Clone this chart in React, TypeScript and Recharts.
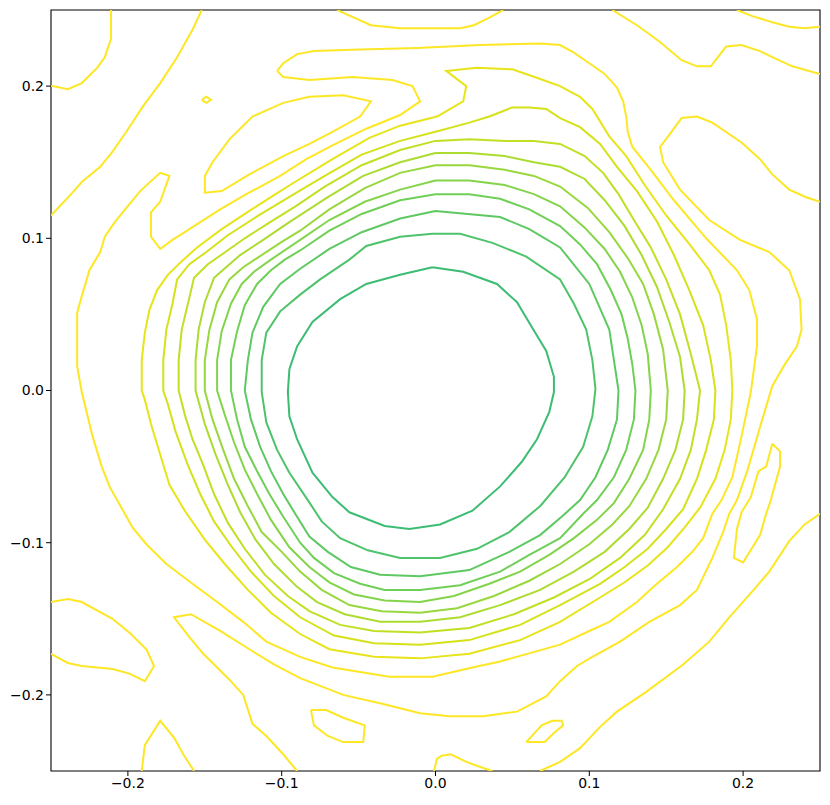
import { LineChart, Line, XAxis, YAxis, ReferenceArea } from 'recharts';

type Pt = [number, number];

// closed rings, innermost first
const ring1: Pt[] = [[-0.002,0.081],[0.018,0.078],[0.040,0.070],[0.053,0.058],[0.063,0.041],[0.072,0.026],[0.077,0.009],[0.077,-0.001],[0.074,-0.014],[0.066,-0.032],[0.056,-0.047],[0.042,-0.063],[0.024,-0.079],[0.003,-0.088],[-0.017,-0.091],[-0.033,-0.089],[-0.056,-0.080],[-0.067,-0.070],[-0.080,-0.054],[-0.090,-0.032],[-0.095,-0.017],[-0.096,-0.001],[-0.095,0.014],[-0.090,0.029],[-0.080,0.045],[-0.062,0.060],[-0.045,0.070],[-0.023,0.076],[-0.002,0.081]];
const ring2: Pt[] = [[-0.002,0.103],[0.016,0.103],[0.037,0.097],[0.059,0.088],[0.081,0.073],[0.090,0.057],[0.098,0.040],[0.102,0.020],[0.104,0.001],[0.102,-0.017],[0.096,-0.037],[0.084,-0.057],[0.068,-0.076],[0.048,-0.093],[0.027,-0.104],[0.003,-0.110],[-0.023,-0.110],[-0.044,-0.105],[-0.062,-0.097],[-0.074,-0.086],[-0.083,-0.072],[-0.095,-0.054],[-0.103,-0.039],[-0.110,-0.021],[-0.113,-0.001],[-0.113,0.020],[-0.110,0.038],[-0.101,0.052],[-0.088,0.063],[-0.075,0.073],[-0.056,0.086],[-0.045,0.095],[-0.023,0.101],[-0.002,0.103]];
const ring3: Pt[] = [[0.000,0.118],[0.042,0.114],[0.061,0.106],[0.081,0.094],[0.100,0.070],[0.113,0.040],[0.119,0.000],[0.118,-0.019],[0.112,-0.039],[0.104,-0.057],[0.094,-0.072],[0.082,-0.083],[0.068,-0.095],[0.048,-0.106],[0.022,-0.118],[-0.010,-0.122],[-0.036,-0.121],[-0.055,-0.116],[-0.070,-0.106],[-0.082,-0.096],[-0.090,-0.083],[-0.099,-0.068],[-0.107,-0.053],[-0.114,-0.037],[-0.120,-0.019],[-0.124,0.000],[-0.122,0.020],[-0.119,0.038],[-0.112,0.055],[-0.101,0.070],[-0.088,0.080],[-0.069,0.093],[-0.048,0.104],[-0.023,0.113],[0.000,0.118]];
const ring4: Pt[] = [[0.000,0.129],[0.022,0.129],[0.042,0.126],[0.061,0.119],[0.081,0.108],[0.094,0.096],[0.105,0.083],[0.114,0.066],[0.121,0.050],[0.125,0.034],[0.128,0.017],[0.130,0.000],[0.129,-0.019],[0.124,-0.039],[0.116,-0.057],[0.105,-0.072],[0.096,-0.081],[0.081,-0.097],[0.061,-0.108],[0.042,-0.119],[0.016,-0.128],[-0.010,-0.131],[-0.033,-0.131],[-0.049,-0.127],[-0.066,-0.120],[-0.079,-0.110],[-0.088,-0.100],[-0.099,-0.083],[-0.108,-0.068],[-0.116,-0.053],[-0.124,-0.037],[-0.129,-0.019],[-0.133,0.000],[-0.133,0.020],[-0.129,0.039],[-0.124,0.056],[-0.116,0.070],[-0.107,0.079],[-0.098,0.086],[-0.088,0.092],[-0.069,0.105],[-0.048,0.116],[-0.023,0.125],[0.000,0.129]];
const ring5: Pt[] = [[0.000,0.138],[0.022,0.138],[0.045,0.135],[0.064,0.129],[0.081,0.121],[0.097,0.107],[0.110,0.093],[0.120,0.078],[0.128,0.061],[0.134,0.043],[0.138,0.024],[0.140,0.000],[0.139,-0.019],[0.135,-0.039],[0.126,-0.058],[0.116,-0.074],[0.105,-0.085],[0.090,-0.097],[0.074,-0.108],[0.055,-0.119],[0.035,-0.127],[0.012,-0.135],[-0.010,-0.139],[-0.033,-0.138],[-0.053,-0.134],[-0.069,-0.126],[-0.082,-0.116],[-0.095,-0.103],[-0.107,-0.085],[-0.116,-0.068],[-0.124,-0.052],[-0.131,-0.034],[-0.137,-0.016],[-0.142,0.000],[-0.142,0.020],[-0.139,0.039],[-0.133,0.057],[-0.126,0.070],[-0.118,0.078],[-0.107,0.086],[-0.088,0.099],[-0.069,0.112],[-0.046,0.124],[-0.023,0.132],[0.000,0.138]];
const ring6: Pt[] = [[0.000,0.148],[0.022,0.148],[0.045,0.145],[0.064,0.141],[0.081,0.134],[0.099,0.120],[0.113,0.104],[0.125,0.087],[0.135,0.070],[0.142,0.050],[0.148,0.027],[0.151,0.000],[0.150,-0.019],[0.145,-0.039],[0.137,-0.058],[0.126,-0.076],[0.115,-0.088],[0.100,-0.101],[0.081,-0.114],[0.061,-0.125],[0.038,-0.135],[0.014,-0.143],[-0.010,-0.146],[-0.035,-0.145],[-0.056,-0.141],[-0.074,-0.131],[-0.088,-0.119],[-0.100,-0.106],[-0.113,-0.093],[-0.122,-0.076],[-0.131,-0.058],[-0.138,-0.039],[-0.145,-0.019],[-0.150,0.000],[-0.150,0.020],[-0.147,0.040],[-0.142,0.058],[-0.134,0.073],[-0.125,0.081],[-0.116,0.087],[-0.101,0.097],[-0.088,0.105],[-0.069,0.119],[-0.046,0.133],[-0.023,0.143],[0.000,0.148]];
const ring7: Pt[] = [[0.000,0.156],[0.022,0.156],[0.045,0.154],[0.064,0.150],[0.081,0.147],[0.097,0.139],[0.110,0.125],[0.123,0.108],[0.134,0.089],[0.144,0.068],[0.152,0.045],[0.159,0.022],[0.162,0.000],[0.161,-0.019],[0.156,-0.039],[0.148,-0.058],[0.138,-0.077],[0.126,-0.091],[0.110,-0.106],[0.090,-0.119],[0.068,-0.131],[0.042,-0.141],[0.016,-0.149],[-0.010,-0.152],[-0.036,-0.152],[-0.059,-0.147],[-0.077,-0.139],[-0.090,-0.129],[-0.105,-0.114],[-0.117,-0.098],[-0.127,-0.080],[-0.135,-0.062],[-0.143,-0.042],[-0.150,-0.022],[-0.156,0.000],[-0.156,0.020],[-0.154,0.040],[-0.150,0.058],[-0.144,0.074],[-0.135,0.082],[-0.127,0.089],[-0.112,0.099],[-0.096,0.110],[-0.070,0.127],[-0.047,0.141],[-0.023,0.150],[0.000,0.156]];
const ring8: Pt[] = [[0.000,0.164],[0.022,0.165],[0.045,0.164],[0.064,0.164],[0.081,0.162],[0.097,0.154],[0.109,0.143],[0.119,0.129],[0.129,0.112],[0.140,0.094],[0.150,0.073],[0.159,0.050],[0.166,0.024],[0.172,0.000],[0.170,-0.019],[0.166,-0.039],[0.159,-0.058],[0.148,-0.078],[0.136,-0.095],[0.120,-0.110],[0.100,-0.124],[0.077,-0.136],[0.051,-0.147],[0.022,-0.156],[-0.010,-0.159],[-0.040,-0.158],[-0.062,-0.154],[-0.082,-0.145],[-0.096,-0.135],[-0.111,-0.121],[-0.124,-0.104],[-0.135,-0.087],[-0.144,-0.068],[-0.151,-0.049],[-0.158,-0.032],[-0.163,-0.016],[-0.167,0.000],[-0.167,0.020],[-0.165,0.040],[-0.161,0.057],[-0.157,0.074],[-0.148,0.083],[-0.138,0.090],[-0.124,0.100],[-0.107,0.111],[-0.091,0.121],[-0.072,0.134],[-0.048,0.148],[-0.023,0.158],[0.000,0.164]];
const ring9: Pt[] = [[0.000,0.170],[0.022,0.176],[0.035,0.180],[0.050,0.186],[0.061,0.186],[0.072,0.185],[0.081,0.179],[0.094,0.173],[0.107,0.162],[0.118,0.147],[0.131,0.131],[0.144,0.111],[0.155,0.089],[0.165,0.066],[0.174,0.043],[0.179,0.020],[0.182,0.000],[0.181,-0.019],[0.176,-0.039],[0.170,-0.058],[0.161,-0.078],[0.150,-0.091],[0.138,-0.104],[0.123,-0.116],[0.107,-0.127],[0.081,-0.141],[0.055,-0.154],[0.022,-0.164],[-0.010,-0.167],[-0.040,-0.166],[-0.066,-0.161],[-0.088,-0.149],[-0.105,-0.135],[-0.120,-0.119],[-0.133,-0.102],[-0.144,-0.086],[-0.153,-0.068],[-0.161,-0.049],[-0.169,-0.027],[-0.174,-0.009],[-0.177,0.000],[-0.177,0.020],[-0.175,0.040],[-0.171,0.057],[-0.168,0.073],[-0.160,0.083],[-0.149,0.091],[-0.135,0.102],[-0.115,0.115],[-0.092,0.129],[-0.072,0.141],[-0.048,0.155],[-0.023,0.164],[0.000,0.170]];
const ring10: Pt[] = [[0.001,0.180],[0.018,0.190],[0.020,0.200],[0.007,0.210],[0.027,0.212],[0.050,0.211],[0.070,0.204],[0.081,0.200],[0.094,0.193],[0.102,0.185],[0.113,0.167],[0.124,0.154],[0.136,0.135],[0.150,0.115],[0.166,0.095],[0.178,0.079],[0.185,0.063],[0.189,0.043],[0.192,0.020],[0.193,0.000],[0.192,-0.019],[0.188,-0.039],[0.182,-0.058],[0.172,-0.077],[0.162,-0.090],[0.151,-0.103],[0.138,-0.115],[0.123,-0.126],[0.107,-0.136],[0.081,-0.152],[0.055,-0.164],[0.022,-0.173],[-0.010,-0.176],[-0.040,-0.175],[-0.069,-0.170],[-0.088,-0.160],[-0.107,-0.146],[-0.122,-0.131],[-0.137,-0.114],[-0.150,-0.098],[-0.163,-0.079],[-0.173,-0.062],[-0.179,-0.042],[-0.185,-0.022],[-0.189,-0.006],[-0.191,0.000],[-0.191,0.020],[-0.189,0.038],[-0.186,0.053],[-0.181,0.066],[-0.174,0.076],[-0.166,0.084],[-0.155,0.094],[-0.139,0.106],[-0.121,0.118],[-0.104,0.129],[-0.093,0.136],[-0.067,0.152],[-0.043,0.166],[-0.023,0.174],[0.001,0.180]];

// outermost (yellow) level
const outerRing: Pt[] = [[-0.103,0.210],[-0.099,0.215],[-0.090,0.221],[-0.079,0.223],[-0.049,0.224],[-0.012,0.225],[0.029,0.227],[0.068,0.228],[0.081,0.227],[0.090,0.222],[0.100,0.215],[0.110,0.208],[0.118,0.199],[0.122,0.190],[0.124,0.180],[0.125,0.170],[0.128,0.160],[0.140,0.145],[0.155,0.125],[0.176,0.100],[0.196,0.079],[0.204,0.066],[0.209,0.047],[0.209,0.029],[0.205,-0.001],[0.199,-0.030],[0.193,-0.057],[0.186,-0.072],[0.180,-0.081],[0.174,-0.097],[0.167,-0.106],[0.157,-0.116],[0.144,-0.127],[0.131,-0.139],[0.113,-0.152],[0.100,-0.158],[0.081,-0.167],[0.042,-0.178],[0.024,-0.182],[-0.002,-0.188],[-0.030,-0.188],[-0.067,-0.182],[-0.088,-0.175],[-0.110,-0.165],[-0.125,-0.152],[-0.142,-0.139],[-0.158,-0.127],[-0.175,-0.114],[-0.188,-0.101],[-0.197,-0.090],[-0.202,-0.081],[-0.212,-0.063],[-0.217,-0.050],[-0.223,-0.030],[-0.230,-0.001],[-0.233,0.016],[-0.233,0.032],[-0.233,0.051],[-0.230,0.062],[-0.225,0.079],[-0.218,0.091],[-0.215,0.101],[-0.209,0.110],[-0.201,0.120],[-0.192,0.131],[-0.179,0.143],[-0.173,0.141],[-0.179,0.124],[-0.185,0.117],[-0.185,0.101],[-0.179,0.093],[-0.171,0.099],[-0.160,0.106],[-0.140,0.119],[-0.123,0.129],[-0.101,0.141],[-0.084,0.152],[-0.067,0.161],[-0.045,0.172],[-0.023,0.181],[-0.010,0.190],[-0.015,0.200],[-0.028,0.204],[-0.054,0.206],[-0.082,0.204],[-0.099,0.206],[-0.103,0.210]];
const outerLine: Pt[] = [[-0.090,-0.250],[-0.099,-0.239],[-0.110,-0.227],[-0.119,-0.219],[-0.125,-0.200],[-0.134,-0.190],[-0.142,-0.182],[-0.151,-0.173],[-0.160,-0.162],[-0.170,-0.149],[-0.159,-0.147],[-0.140,-0.158],[-0.121,-0.170],[-0.105,-0.180],[-0.088,-0.189],[-0.060,-0.200],[-0.034,-0.206],[-0.010,-0.212],[0.009,-0.214],[0.031,-0.214],[0.053,-0.211],[0.072,-0.201],[0.081,-0.191],[0.092,-0.181],[0.102,-0.175],[0.120,-0.165],[0.139,-0.152],[0.159,-0.141],[0.170,-0.131],[0.180,-0.110],[0.187,-0.093],[0.191,-0.081],[0.196,-0.072],[0.203,-0.052],[0.211,-0.024],[0.219,0.003],[0.227,0.017],[0.235,0.029],[0.238,0.040],[0.237,0.060],[0.230,0.079],[0.217,0.091],[0.198,0.099],[0.178,0.112],[0.159,0.132],[0.148,0.150],[0.146,0.160],[0.152,0.168],[0.160,0.179],[0.170,0.180],[0.180,0.176],[0.199,0.163],[0.211,0.152],[0.219,0.142],[0.230,0.132],[0.241,0.127],[0.250,0.124]];
const topArc: Pt[] = [[-0.064,0.250],[-0.053,0.245],[-0.042,0.240],[-0.023,0.238],[-0.004,0.238],[0.016,0.238],[0.025,0.240],[0.035,0.245],[0.044,0.250]];
const topLeftCorner: Pt[] = [[-0.211,0.250],[-0.211,0.231],[-0.215,0.219],[-0.220,0.212],[-0.230,0.202],[-0.239,0.198],[-0.249,0.200],[-0.250,0.200]];
const topLeftDiagonal: Pt[] = [[-0.152,0.250],[-0.158,0.237],[-0.168,0.219],[-0.179,0.202],[-0.190,0.187],[-0.201,0.170],[-0.210,0.157],[-0.218,0.147],[-0.230,0.137],[-0.236,0.130],[-0.250,0.115]];
const tinyLoop: Pt[] = [[-0.152,0.191],[-0.149,0.193],[-0.146,0.191],[-0.149,0.189],[-0.152,0.191]];
const upperIsland: Pt[] = [[-0.082,0.193],[-0.099,0.189],[-0.119,0.180],[-0.134,0.165],[-0.145,0.150],[-0.150,0.141],[-0.150,0.130],[-0.139,0.131],[-0.121,0.142],[-0.099,0.154],[-0.082,0.162],[-0.067,0.170],[-0.049,0.180],[-0.042,0.190],[-0.060,0.194],[-0.082,0.193]];
const topRightWave: Pt[] = [[0.115,0.250],[0.131,0.240],[0.146,0.229],[0.160,0.217],[0.170,0.213],[0.179,0.213],[0.189,0.226],[0.199,0.227],[0.211,0.223],[0.219,0.219],[0.232,0.213],[0.250,0.208]];
const topRightCorner: Pt[] = [[0.196,0.250],[0.206,0.246],[0.219,0.242],[0.230,0.239],[0.240,0.238],[0.250,0.239]];
const rightIsland: Pt[] = [[0.219,-0.035],[0.224,-0.040],[0.224,-0.050],[0.218,-0.072],[0.215,-0.081],[0.211,-0.095],[0.200,-0.113],[0.194,-0.110],[0.196,-0.091],[0.199,-0.080],[0.205,-0.070],[0.210,-0.053],[0.215,-0.050],[0.219,-0.035]];
const bottomRightLine: Pt[] = [[0.068,-0.250],[0.081,-0.244],[0.094,-0.235],[0.107,-0.221],[0.118,-0.211],[0.137,-0.198],[0.161,-0.180],[0.178,-0.165],[0.191,-0.149],[0.206,-0.132],[0.217,-0.119],[0.230,-0.099],[0.240,-0.088],[0.250,-0.081]];
const bottomLeftIsland: Pt[] = [[-0.250,-0.139],[-0.239,-0.137],[-0.230,-0.139],[-0.210,-0.150],[-0.198,-0.160],[-0.188,-0.170],[-0.183,-0.181],[-0.189,-0.191],[-0.199,-0.186],[-0.210,-0.183],[-0.230,-0.181],[-0.239,-0.179],[-0.250,-0.173]];
const bottomLeftBump: Pt[] = [[-0.191,-0.250],[-0.189,-0.233],[-0.179,-0.217],[-0.170,-0.228],[-0.164,-0.239],[-0.157,-0.250]];
const bottomIslandA: Pt[] = [[-0.081,-0.210],[-0.071,-0.210],[-0.060,-0.215],[-0.046,-0.220],[-0.047,-0.231],[-0.060,-0.231],[-0.070,-0.227],[-0.079,-0.220],[-0.081,-0.210]];
const bottomCenterBump: Pt[] = [[-0.001,-0.250],[0.001,-0.242],[0.004,-0.240],[0.010,-0.239],[0.020,-0.244],[0.031,-0.248],[0.037,-0.250]];
const bottomIslandB: Pt[] = [[0.059,-0.231],[0.069,-0.220],[0.076,-0.217],[0.082,-0.217],[0.083,-0.220],[0.077,-0.225],[0.071,-0.231],[0.059,-0.231]];

const LEVEL_COLORS = ['#3dbc74', '#4ec36b', '#5ec962', '#70cf57', '#84d44b', '#98d83e', '#addc30', '#c2df23', '#d5e21a', '#e7e419', '#fde725'];

const contours: { id: string; pts: Pt[]; level: number }[] = [
  { id: 'ring1', pts: ring1, level: 0 },
  { id: 'ring2', pts: ring2, level: 1 },
  { id: 'ring3', pts: ring3, level: 2 },
  { id: 'ring4', pts: ring4, level: 3 },
  { id: 'ring5', pts: ring5, level: 4 },
  { id: 'ring6', pts: ring6, level: 5 },
  { id: 'ring7', pts: ring7, level: 6 },
  { id: 'ring8', pts: ring8, level: 7 },
  { id: 'ring9', pts: ring9, level: 8 },
  { id: 'ring10', pts: ring10, level: 9 },
  { id: 'outerRing', pts: outerRing, level: 10 },
  { id: 'outerLine', pts: outerLine, level: 10 },
  { id: 'topArc', pts: topArc, level: 10 },
  { id: 'topLeftCorner', pts: topLeftCorner, level: 10 },
  { id: 'topLeftDiagonal', pts: topLeftDiagonal, level: 10 },
  { id: 'tinyLoop', pts: tinyLoop, level: 10 },
  { id: 'upperIsland', pts: upperIsland, level: 10 },
  { id: 'topRightWave', pts: topRightWave, level: 10 },
  { id: 'topRightCorner', pts: topRightCorner, level: 10 },
  { id: 'rightIsland', pts: rightIsland, level: 10 },
  { id: 'bottomRightLine', pts: bottomRightLine, level: 10 },
  { id: 'bottomLeftIsland', pts: bottomLeftIsland, level: 10 },
  { id: 'bottomLeftBump', pts: bottomLeftBump, level: 10 },
  { id: 'bottomIslandA', pts: bottomIslandA, level: 10 },
  { id: 'bottomCenterBump', pts: bottomCenterBump, level: 10 },
  { id: 'bottomIslandB', pts: bottomIslandB, level: 10 },
];

const TICKS = [-0.2, -0.1, 0, 0.1, 0.2];

const fmt = (v: number) => {
  const s = Math.abs(v).toFixed(1);
  return v < -1e-9 ? '\u2212' + s : s;
};

const tickStyle = { fill: '#000', fontSize: 14, fontFamily: 'DejaVu Sans' };

export default function App() {
  return (
    <div style={{ position: 'absolute', left: 0, top: 0, width: 830, height: 805, background: '#fff' }}>
      <LineChart width={830} height={805} margin={{ top: 10, right: 10, bottom: 4, left: 6 }}>
        <XAxis
          type="number"
          dataKey="x"
          domain={[-0.25, 0.25]}
          ticks={TICKS}
          tickFormatter={fmt}
          allowDataOverflow
          height={30}
          tickSize={5}
          axisLine={false}
          tickLine={{ stroke: '#000' }}
          tick={tickStyle}
        />
        <YAxis
          type="number"
          dataKey="y"
          domain={[-0.25, 0.25]}
          ticks={TICKS}
          tickFormatter={fmt}
          allowDataOverflow
          width={45}
          tickSize={5}
          axisLine={false}
          tickLine={{ stroke: '#000' }}
          tick={tickStyle}
        />
        {contours.map((c) => (
          <Line
            key={c.id}
            data={c.pts.map(([x, y]) => ({ x, y }))}
            dataKey="y"
            type="linear"
            stroke={LEVEL_COLORS[c.level]}
            strokeWidth={2}
            dot={false}
            activeDot={false}
            isAnimationActive={false}
          />
        ))}
        <ReferenceArea x1={-0.25} x2={0.25} y1={-0.25} y2={0.25} fill="none" stroke="#000" strokeWidth={1.1} />
      </LineChart>
    </div>
  );
}
